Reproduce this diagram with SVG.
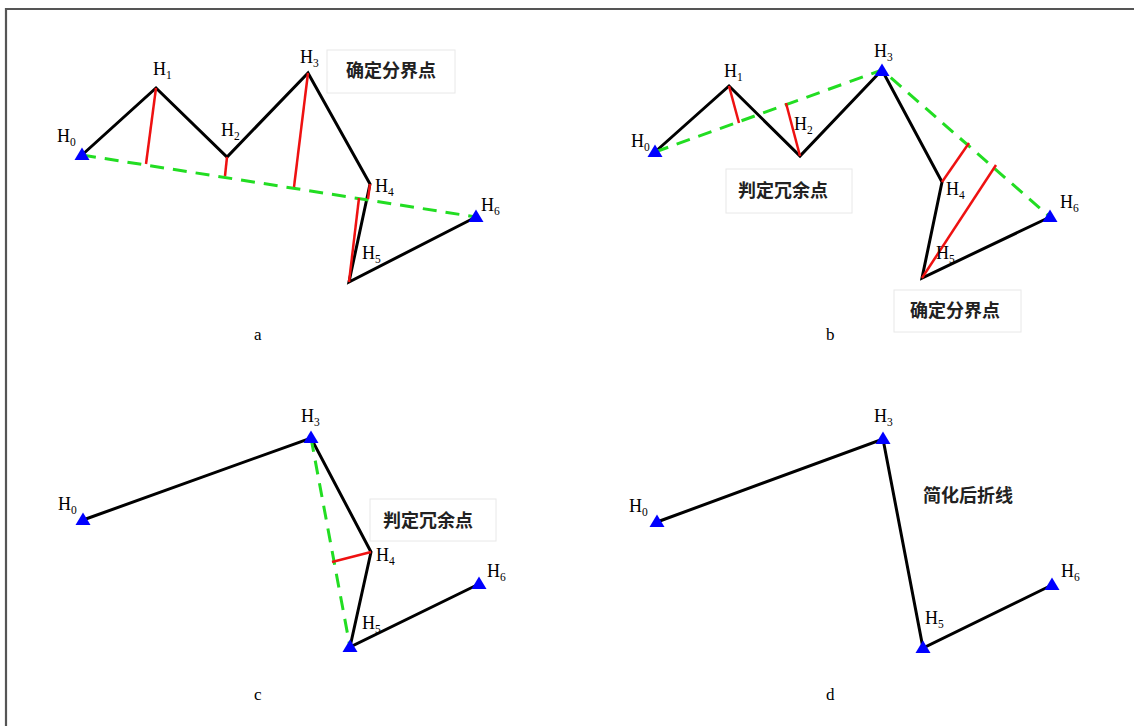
<svg xmlns="http://www.w3.org/2000/svg" xmlns:xlink="http://www.w3.org/1999/xlink" width="1134" height="726" viewBox="0 0 1134 726">
<style>
.bg{fill:#ffffff}
.frame{stroke:#555;stroke-width:2.2;fill:none}
.poly{stroke:#000;stroke-width:3;fill:none;stroke-linejoin:miter;stroke-linecap:round}
.dash{stroke:#22dd22;stroke-width:3;fill:none;stroke-dasharray:14 9}
.red{stroke:#ee1111;stroke-width:2.5;fill:none}
.tri{fill:#0000ff}
.lbl{font-family:"Liberation Serif","Times New Roman",serif;font-size:18px;fill:#000}
.sub{font-size:11.5px}
.cap{font-family:"Liberation Serif","Times New Roman",serif;font-size:17px;fill:#000}
.box{fill:#fff;stroke:#e8e8e8;stroke-width:1}
.cn{font-family:"Noto Sans CJK SC","Noto Sans CJK JP",sans-serif;font-size:18px;font-weight:bold;fill:#222}
</style>
<defs>
<path id="tri" class="tri" d="M0,-7.5 L7.5,5 L-7.5,5 Z"/>
</defs>
<rect class="bg" x="0" y="0" width="1134" height="726"/>
<path class="frame" d="M6,726 V9 H1134"/>

<g id="connectors">
  <!-- panel a -->
  <polyline class="poly" points="82,155 156,88 227,157 308,73 370,184 349,282 476,217"/>
  <line class="dash" x1="82" y1="155" x2="476" y2="217"/>
  <line class="red" x1="156" y1="88" x2="146" y2="164"/>
  <line class="red" x1="227" y1="157" x2="225" y2="176"/>
  <line class="red" x1="308" y1="73" x2="294" y2="187"/>
  <line class="red" x1="370" y1="184" x2="368" y2="199"/>
  <line class="red" x1="359" y1="198" x2="349" y2="282"/>
  <!-- panel b -->
  <polyline class="poly" points="655,152 729,86 800,156 882,70 942,182 922,278 1050,217"/>
  <polyline class="dash" points="655,152 882,70 1050,217"/>
  <line class="red" x1="729" y1="86" x2="739" y2="123"/>
  <line class="red" x1="800" y1="156" x2="786" y2="103"/>
  <line class="red" x1="942" y1="182" x2="969" y2="143"/>
  <line class="red" x1="922" y1="278" x2="996" y2="165"/>
  <!-- panel c -->
  <polyline class="poly" points="83,520 311,438 371,552 350,647 479,584"/>
  <line class="dash" x1="311" y1="438" x2="350" y2="647"/>
  <line class="red" x1="371" y1="552" x2="332" y2="562"/>
  <!-- panel d -->
  <polyline class="poly" points="657,522 883,439 923,648 1052,585"/>
</g>

<g id="panel-a">
  <g id="a-H0"><use xlink:href="#tri" x="82" y="155"/><text class="lbl" x="57" y="142">H<tspan class="sub" dy="4">0</tspan></text></g>
  <g id="a-H1"><text class="lbl" x="153" y="75">H<tspan class="sub" dy="4">1</tspan></text></g>
  <g id="a-H2"><text class="lbl" x="221" y="136">H<tspan class="sub" dy="4">2</tspan></text></g>
  <g id="a-H3"><text class="lbl" x="300" y="63">H<tspan class="sub" dy="4">3</tspan></text></g>
  <g id="a-H4"><text class="lbl" x="375" y="192">H<tspan class="sub" dy="4">4</tspan></text></g>
  <g id="a-H5"><text class="lbl" x="362" y="259">H<tspan class="sub" dy="4">5</tspan></text></g>
  <g id="a-H6"><use xlink:href="#tri" x="476" y="217"/><text class="lbl" x="481" y="211">H<tspan class="sub" dy="4">6</tspan></text></g>
  <g id="a-note"><rect class="box" x="327" y="50" width="128" height="43"/><text class="cn" x="346" y="77">确定分界点</text></g>
  <text class="cap" x="254" y="340">a</text>
</g>

<g id="panel-b">
  <g id="b-H0"><use xlink:href="#tri" x="655" y="152"/><text class="lbl" x="631" y="147">H<tspan class="sub" dy="4">0</tspan></text></g>
  <g id="b-H1"><text class="lbl" x="724" y="77">H<tspan class="sub" dy="4">1</tspan></text></g>
  <g id="b-H2"><text class="lbl" x="794" y="130">H<tspan class="sub" dy="4">2</tspan></text></g>
  <g id="b-H3"><use xlink:href="#tri" x="882" y="71"/><text class="lbl" x="874" y="57">H<tspan class="sub" dy="4">3</tspan></text></g>
  <g id="b-H4"><text class="lbl" x="946" y="195">H<tspan class="sub" dy="4">4</tspan></text></g>
  <g id="b-H5"><text class="lbl" x="936" y="259">H<tspan class="sub" dy="4">5</tspan></text></g>
  <g id="b-H6"><use xlink:href="#tri" x="1050" y="217"/><text class="lbl" x="1060" y="208">H<tspan class="sub" dy="4">6</tspan></text></g>
  <g id="b-note1"><rect class="box" x="726" y="169" width="126" height="44"/><text class="cn" x="738" y="197">判定冗余点</text></g>
  <g id="b-note2"><rect class="box" x="894" y="290" width="127" height="42"/><text class="cn" x="910" y="317">确定分界点</text></g>
  <text class="cap" x="826" y="340">b</text>
</g>

<g id="panel-c">
  <g id="c-H0"><use xlink:href="#tri" x="83" y="520"/><text class="lbl" x="58" y="510">H<tspan class="sub" dy="4">0</tspan></text></g>
  <g id="c-H3"><use xlink:href="#tri" x="311" y="438"/><text class="lbl" x="301" y="422">H<tspan class="sub" dy="4">3</tspan></text></g>
  <g id="c-H4"><text class="lbl" x="376" y="561">H<tspan class="sub" dy="4">4</tspan></text></g>
  <g id="c-H5"><use xlink:href="#tri" x="350" y="647"/><text class="lbl" x="362" y="629">H<tspan class="sub" dy="4">5</tspan></text></g>
  <g id="c-H6"><use xlink:href="#tri" x="479" y="584"/><text class="lbl" x="487" y="577">H<tspan class="sub" dy="4">6</tspan></text></g>
  <g id="c-note"><rect class="box" x="370" y="499" width="126" height="42"/><text class="cn" x="383" y="527">判定冗余点</text></g>
  <text class="cap" x="254" y="700">c</text>
</g>

<g id="panel-d">
  <g id="d-H0"><use xlink:href="#tri" x="657" y="522"/><text class="lbl" x="629" y="512">H<tspan class="sub" dy="4">0</tspan></text></g>
  <g id="d-H3"><use xlink:href="#tri" x="883" y="439"/><text class="lbl" x="874" y="422">H<tspan class="sub" dy="4">3</tspan></text></g>
  <g id="d-H5"><use xlink:href="#tri" x="923" y="648"/><text class="lbl" x="925" y="624">H<tspan class="sub" dy="4">5</tspan></text></g>
  <g id="d-H6"><use xlink:href="#tri" x="1052" y="585"/><text class="lbl" x="1061" y="577">H<tspan class="sub" dy="4">6</tspan></text></g>
  <g id="d-note"><text class="cn" x="923" y="502">简化后折线</text></g>
  <text class="cap" x="826" y="700">d</text>
</g>
</svg>
